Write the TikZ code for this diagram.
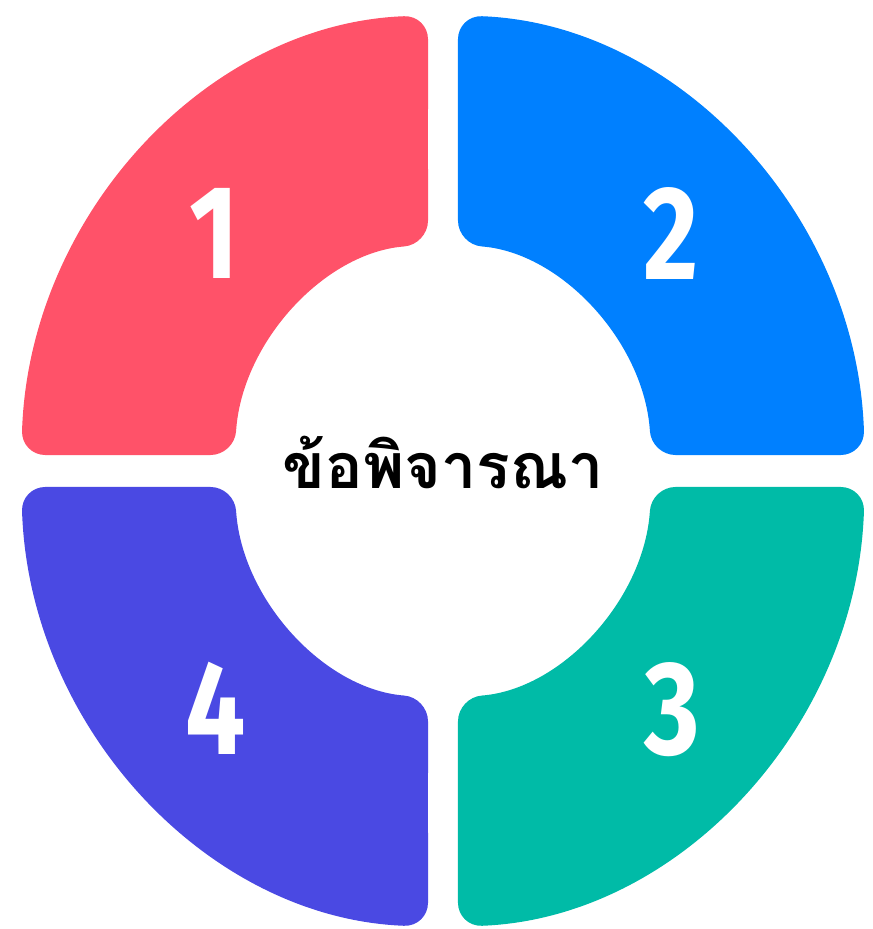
\documentclass[tikz,border=0pt]{standalone}
\usepackage{fontspec}
\newfontfamily\thaifont[Script=Thai]{Loma}
\newfontfamily\numfont[FakeStretch=0.8]{Fira Sans}
\definecolor{qred}{HTML}{FF5269}
\definecolor{qblue}{HTML}{0080FF}
\definecolor{qteal}{HTML}{00BBA7}
\definecolor{qviolet}{HTML}{4A49E3}
% one quarter of the ring, drawn top right and mirrored
\newcommand{\ringpart}[3]{%
\begin{scope}[xscale=#2,yscale=#3]
\fill[#1,rounded corners=18pt] (15,340) -- ({acos(15/209)}:209 and 227)
  arc[start angle={acos(15/209)},end angle={asin(16/227)},x radius=209,y radius=227]
  -- ({asin(16/456)}:422 and 456)
  arc[start angle={asin(16/456)},end angle={acos(15/422)},x radius=422,y radius=456] -- cycle;
\end{scope}}
\begin{document}
\begin{tikzpicture}[x=0.75pt,y=0.75pt,
  num/.style={text=white,font=\numfont\bfseries\fontsize{100}{100}\selectfont},
  title/.style={font=\thaifont\bfseries\fontsize{47}{47}\selectfont,anchor=base}]
\useasboundingbox (-443,-458) rectangle (430,471);
\ringpart{qred}{-1}{1}
\ringpart{qblue}{1}{1}
\ringpart{qteal}{1}{-1}
\ringpart{qviolet}{-1}{-1}
\node[num] (n1) at (-229,238) {1};
\node[num] (n2) at (228,237) {2};
\node[num] (n3) at (229,-239) {3};
\node[num] (n4) at (-227,-237) {4};
\node[title] (center) at (0,-17) {ข้อพิจารณา};
\end{tikzpicture}
\end{document}
